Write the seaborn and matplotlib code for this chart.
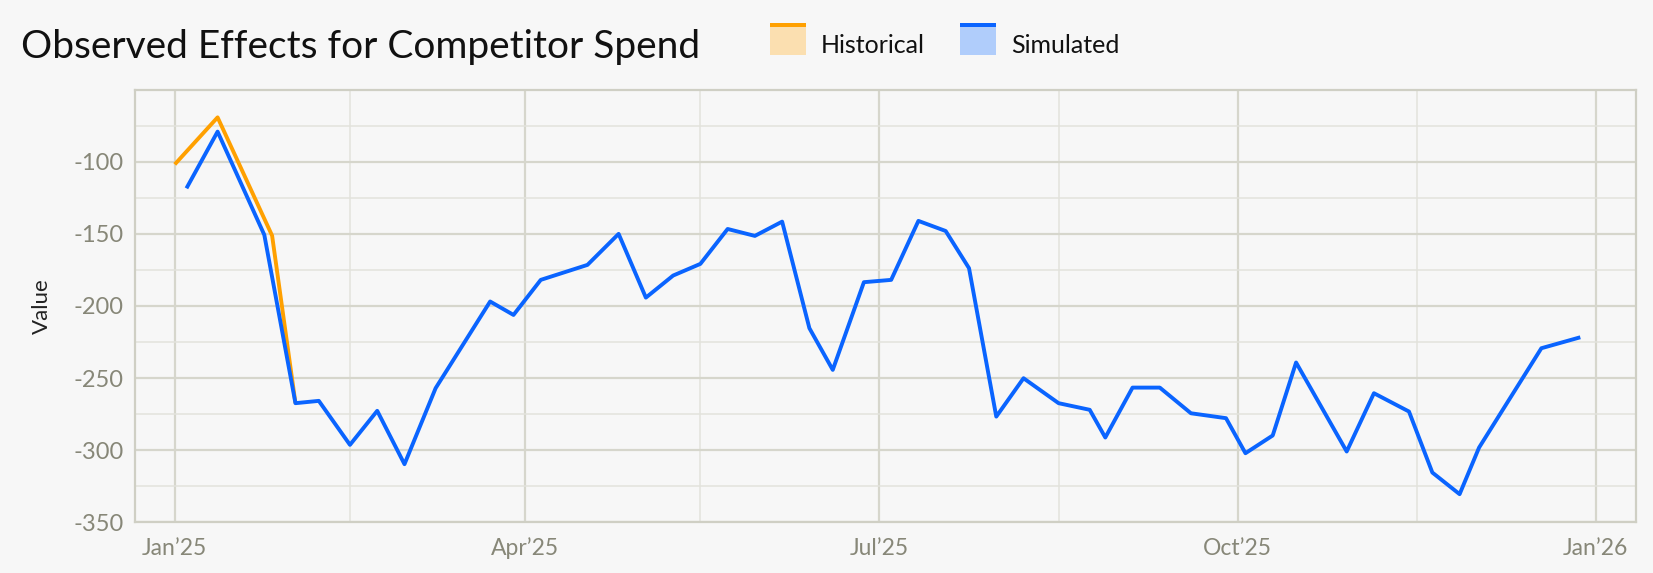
import pandas as pd
import seaborn as sns
import matplotlib.pyplot as plt
import matplotlib.dates as mdates
from matplotlib.patches import Rectangle
from matplotlib.ticker import MultipleLocator, FixedLocator

# Simulated series (blue)
sim_dates = ["2025-01-04", "2025-01-12", "2025-01-24", "2025-02-01", "2025-02-07", "2025-02-15",
             "2025-02-22", "2025-03-01", "2025-03-09", "2025-03-23", "2025-03-29", "2025-04-05",
             "2025-04-17", "2025-04-25", "2025-05-02", "2025-05-09", "2025-05-16", "2025-05-23",
             "2025-05-30", "2025-06-06", "2025-06-13", "2025-06-19", "2025-06-27", "2025-07-04",
             "2025-07-11", "2025-07-18", "2025-07-24", "2025-07-31", "2025-08-07", "2025-08-16",
             "2025-08-24", "2025-08-28", "2025-09-04", "2025-09-11", "2025-09-19", "2025-09-28",
             "2025-10-03", "2025-10-10", "2025-10-16", "2025-10-29", "2025-11-05", "2025-11-14",
             "2025-11-20", "2025-11-27", "2025-12-02", "2025-12-18", "2025-12-28"]
sim_values = [-118.4, -79.1, -150.7, -267.4, -265.8, -296.3, -272.7, -309.7, -257.0, -196.9,
              -206.2, -181.9, -171.5, -150.0, -194.2, -178.9, -170.8, -146.6, -151.4, -141.5,
              -215.4, -244.3, -183.5, -181.9, -141.0, -148.0, -173.8, -276.7, -250.1, -267.4,
              -272.0, -291.2, -256.6, -256.6, -274.4, -277.8, -302.1, -289.8, -239.2, -300.9,
              -260.5, -273.2, -315.5, -330.5, -298.2, -229.3, -221.7]

# Historical series (orange)
hist_dates = ["2025-01-01", "2025-01-12", "2025-01-26", "2025-02-01"]
hist_values = [-101.8, -69.2, -151.2, -267.4]

tick_dates = ["2025-01-01", "2025-04-01", "2025-07-01", "2025-10-01", "2026-01-01"]
tick_labels = ["Jan\u201925", "Apr\u201925", "Jul\u201925", "Oct\u201925", "Jan\u201926"]
minor_dates = ["2025-02-15", "2025-05-16", "2025-08-16", "2025-11-16"]

series_names = ["Historical", "Simulated"]
series_colors = ["#ffa000", "#0a64ff"]
series_fills = ["#fbdfb0", "#b0cdfb"]

df = pd.concat([
    pd.DataFrame({"date": pd.to_datetime(hist_dates), "value": hist_values, "series": "Historical"}),
    pd.DataFrame({"date": pd.to_datetime(sim_dates), "value": sim_values, "series": "Simulated"}),
])

sns.set_theme(style="whitegrid")
plt.rcParams["font.family"] = ["Lato", "DejaVu Sans"]
plt.rcParams["axes.unicode_minus"] = False

bg = "#f7f7f7"
grid_major = "#d6d6cc"
grid_minor = "#e3e3dc"
tick_col = "#878778"

fig = plt.figure(figsize=(16.53, 5.73), dpi=100, facecolor=bg)
ax = fig.add_axes([0.0817, 0.0885, 0.908, 0.755])
ax.set_facecolor(bg)

sns.lineplot(data=df, x="date", y="value", hue="series", palette=dict(zip(series_names, series_colors)),
             linewidth=2.8, legend=False, ax=ax, estimator=None, sort=False)
for line in ax.get_lines():
    line.set_solid_joinstyle("round")
    line.set_solid_capstyle("butt")

ax.set_ylim(-350, -50)
ax.set_xlim(pd.Timestamp("2025-01-01") - pd.Timedelta(days=10.2),
            pd.Timestamp("2026-01-01") + pd.Timedelta(days=10.3))
ax.yaxis.set_major_locator(FixedLocator([-350, -300, -250, -200, -150, -100]))
ax.yaxis.set_minor_locator(MultipleLocator(25))
ax.xaxis.set_major_locator(FixedLocator(mdates.date2num(pd.to_datetime(tick_dates))))
ax.xaxis.set_minor_locator(FixedLocator(mdates.date2num(pd.to_datetime(minor_dates))))
ax.set_xticklabels(tick_labels)

ax.grid(which="major", color=grid_major, linewidth=1.6)
ax.grid(which="minor", color=grid_minor, linewidth=1.1)
ax.set_axisbelow(True)
for s in ax.spines.values():
    s.set_color("#cfcfc4")
    s.set_linewidth(1.6)

ax.tick_params(axis="y", which="both", length=0, labelsize=17, colors=tick_col, pad=8)
ax.tick_params(axis="x", which="both", length=0, labelsize=16.5, colors=tick_col, pad=11)
ax.set_xlabel("")
ax.set_ylabel("Value", fontsize=16, color="#222222", labelpad=16)

fig.text(0.0127, 0.918, "Observed Effects for Competitor Spend", fontsize=28, color="#111111",
         va="center", ha="left")


class TopBarHandler:
    def legend_artist(self, legend, orig_handle, fontsize, handlebox):
        x0, y0 = handlebox.xdescent, handlebox.ydescent
        w, h = handlebox.width, handlebox.height
        y0 = y0 - 0.3 * h
        tr = handlebox.get_transform()
        fill = Rectangle((x0, y0), w, h, facecolor=orig_handle[1], edgecolor="none", transform=tr)
        bar = Rectangle((x0, y0 + h * 0.87), w, h * 0.13, facecolor=orig_handle[0],
                        edgecolor="none", transform=tr)
        handlebox.add_artist(fill)
        handlebox.add_artist(bar)
        return fill


handles = [(c, f) for c, f in zip(series_colors, series_fills)]
leg = fig.legend(handles, series_names, handler_map={tuple: TopBarHandler()},
                 loc="center left", bbox_to_anchor=(0.4595, 0.922), ncol=2, frameon=False,
                 fontsize=18, handlelength=1.45, handleheight=1.6, handletextpad=0.6,
                 columnspacing=1.4, borderaxespad=0)
for t in leg.get_texts():
    t.set_color("#111111")

fig.savefig("out.png", dpi=100, facecolor=bg)
